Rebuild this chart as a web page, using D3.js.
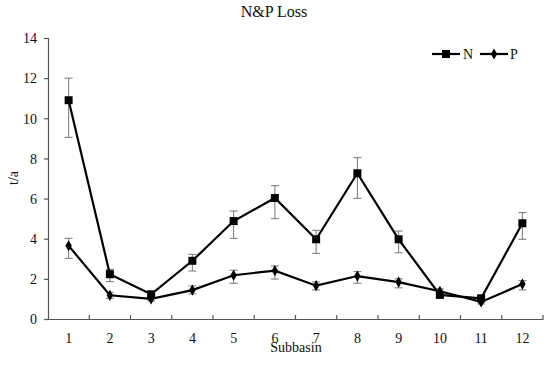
<!DOCTYPE html>
<html><head><meta charset="utf-8">
<script src="https://cdn.jsdelivr.net/npm/d3@7"></script>
<style>body{margin:0;background:#fff}svg{display:block}text{font-family:"Liberation Serif","Times New Roman",serif}</style>
</head><body><svg id="c" width="550" height="367"></svg>
<script>
const categories = ["1","2","3","4","5","6","7","8","9","10","11","12"];
const nValues = [10.9, 2.23, 1.23, 2.9, 4.88, 6.03, 3.97, 7.26, 3.97, 1.2, 1.03, 4.77];
const nLow    = [9.05, 1.86, 1.08, 2.39, 4.02, 5.0, 3.27, 6.01, 3.3, 1.08, 0.93, 3.97];
const nHigh   = [12.0, 2.47, 1.38, 3.22, 5.38, 6.64, 4.42, 8.04, 4.38, 1.32, 1.13, 5.3];
const pValues = [3.65, 1.18, 1.0, 1.44, 2.18, 2.41, 1.66, 2.14, 1.84, 1.38, 0.85, 1.74];
const pLow    = [3.02, 1.03, 0.9, 1.25, 1.78, 1.99, 1.45, 1.78, 1.55, 1.25, 0.75, 1.45];
const pHigh   = [4.02, 1.33, 1.1, 1.65, 2.43, 2.64, 1.85, 2.36, 2.0, 1.5, 0.95, 1.91];
const yTicks = [0,2,4,6,8,10,12,14];

const svg = d3.select("#c");
const L = 48, R = 543, T = 38, B = 319;
const x = d3.scaleBand().domain(categories).range([L, R]);
const y = d3.scaleLinear().domain([0, 14]).range([B, T]);
const axisColor = "#555";
const FONT = "Liberation Serif, Times New Roman, serif";

// axes
const ya = svg.append("g").attr("transform", `translate(${L},0)`)
  .call(d3.axisLeft(y).tickValues(yTicks).tickSize(4).tickPadding(7));
ya.attr("font-family", FONT).attr("font-size", 14);
ya.select(".domain").attr("stroke", axisColor).attr("stroke-width", 1.2);
ya.selectAll(".tick line").attr("stroke", axisColor).attr("stroke-width", 1.2);
ya.selectAll("text").attr("fill", "#111").attr("dy", "0.34em");

const xa = svg.append("g").attr("transform", `translate(0,${B})`)
  .call(d3.axisBottom(x).tickSize(0).tickPadding(0));
xa.attr("font-family", FONT).attr("font-size", 14);
xa.select(".domain").attr("stroke", axisColor).attr("stroke-width", 1.2);
xa.selectAll("text").attr("fill", "#111").attr("y", 24).attr("dy", 0);
// tick marks between categories, pointing inward
const bounds = categories.slice(1).map(c => x(c)).concat([R]);
svg.append("g").selectAll("line").data(bounds).join("line")
  .attr("x1", d => d).attr("x2", d => d).attr("y1", B).attr("y2", B - 4)
  .attr("stroke", axisColor).attr("stroke-width", 1.2);

// titles
svg.append("text").attr("x", 274).attr("y", 17).attr("text-anchor", "middle").attr("font-size", 16).attr("fill", "#111").text("N&P Loss");
svg.append("text").attr("x", 296).attr("y", 352).attr("text-anchor", "middle").attr("font-size", 14).attr("fill", "#111").text("Subbasin");
svg.append("text").attr("transform", "translate(18,178) rotate(-90)").attr("text-anchor", "middle").attr("font-size", 14).attr("fill", "#111").text("t/a");

const cx = c => x(c) + x.bandwidth() / 2;

function errorBars(vals, low, high) {
  const g = svg.append("g").attr("stroke", "#777").attr("stroke-width", 1);
  categories.forEach((c, i) => {
    g.append("line").attr("x1", cx(c)).attr("x2", cx(c)).attr("y1", y(low[i])).attr("y2", y(high[i]));
    g.append("line").attr("x1", cx(c) - 4).attr("x2", cx(c) + 4).attr("y1", y(low[i])).attr("y2", y(low[i]));
    g.append("line").attr("x1", cx(c) - 4).attr("x2", cx(c) + 4).attr("y1", y(high[i])).attr("y2", y(high[i]));
  });
}
errorBars(nValues, nLow, nHigh);
errorBars(pValues, pLow, pHigh);

const line = d3.line().x((d, i) => cx(categories[i])).y(d => y(d));
svg.append("path").datum(nValues).attr("d", line).attr("fill", "none").attr("stroke", "#000").attr("stroke-width", 2.2);
svg.append("path").datum(pValues).attr("d", line).attr("fill", "none").attr("stroke", "#000").attr("stroke-width", 2.2);

const sq = d3.symbol().type(d3.symbolSquare).size(64);
const dm = d3.symbol().type(d3.symbolDiamond).size(36);
svg.append("g").selectAll("path").data(nValues).join("path")
  .attr("d", sq).attr("transform", (d, i) => `translate(${cx(categories[i])},${y(d)})`).attr("fill", "#000");
svg.append("g").selectAll("path").data(pValues).join("path")
  .attr("d", dm).attr("transform", (d, i) => `translate(${cx(categories[i])},${y(d)})`).attr("fill", "#000");

// legend
const lg = svg.append("g");
lg.append("line").attr("x1", 432).attr("x2", 460).attr("y1", 54).attr("y2", 54).attr("stroke", "#000").attr("stroke-width", 2.2);
lg.append("path").attr("d", sq).attr("transform", "translate(446,54)").attr("fill", "#000");
lg.append("text").attr("x", 463).attr("y", 59).attr("font-size", 14).attr("fill", "#111").text("N");
lg.append("line").attr("x1", 480).attr("x2", 508).attr("y1", 54).attr("y2", 54).attr("stroke", "#000").attr("stroke-width", 2.2);
lg.append("path").attr("d", dm).attr("transform", "translate(494,54)").attr("fill", "#000");
lg.append("text").attr("x", 510).attr("y", 59).attr("font-size", 14).attr("fill", "#111").text("P");
</script></body></html>
